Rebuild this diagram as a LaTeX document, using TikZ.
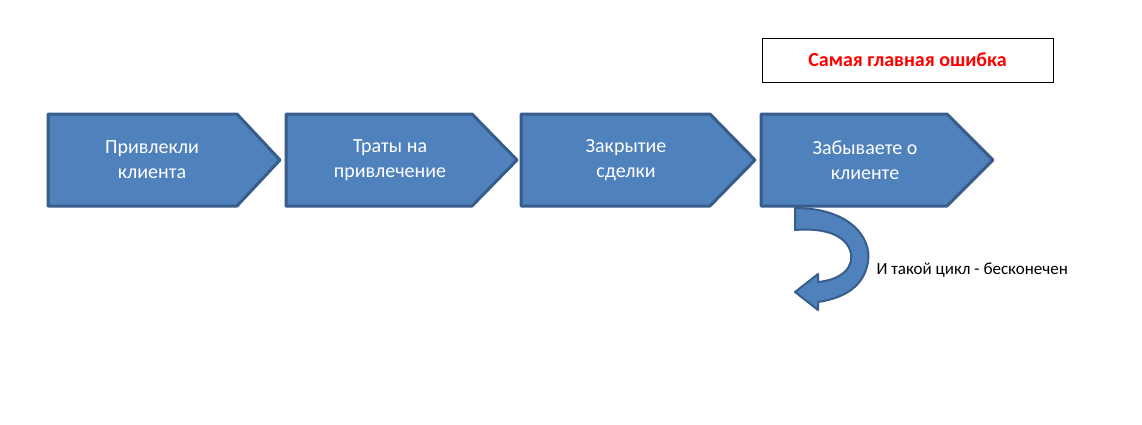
\documentclass[tikz,border=0pt]{standalone}
\usepackage{fontspec}
\setmainfont{Carlito}
\begin{document}
\begin{tikzpicture}[x=1pt,y=-1pt,
  stepbox/.style={fill=blue1,draw=blue2,line width=3pt,line join=round},
  lbl/.style={text=white,align=center,font=\fontsize{20}{25}\selectfont}]
\definecolor{blue1}{HTML}{4F81BD}
\definecolor{blue2}{HTML}{385D8A}
\useasboundingbox (0,0) rectangle (1142,424);
\foreach \a/\b/\s in {48/280/237, 286/517/472, 521/755/710, 761/993/947}{
  \fill[stepbox] (\a,114) -- (\s,114) -- (\b,160) -- (\s,206) -- (\a,206) -- cycle;
}
\node[lbl] (n1) at (152,160) {Привлекли\\клиента};
\node[lbl] (n2) at (390,160) {Траты на\\привлечение};
\node[lbl] (n3) at (626,160) {Закрытие\\сделки};
\node[lbl] (n4) at (865,160) {Забываете о\\клиенте};
\node[draw=black,line width=0.8pt,minimum width=291pt,minimum height=44pt,text=red,
  font=\bfseries\fontsize{20}{24}\selectfont] (err) at (907.5,60) {Самая главная ошибка};
\fill[fill=blue1,draw=blue2,line width=2pt,line join=round]
 (795,208) .. controls (850,208) and (872,238) .. (868,262)
 .. controls (864,286) and (845,298) .. (818,302) -- (818,310) -- (795,292) -- (818,274) -- (818,282)
 .. controls (840,280) and (856,268) .. (850,250)
 .. controls (843,232) and (818,228) .. (795,230) -- cycle;
\node[anchor=west,font=\fontsize{17}{20}\selectfont] (cyc) at (873,270) {И такой цикл - бесконечен};
\end{tikzpicture}
\end{document}
